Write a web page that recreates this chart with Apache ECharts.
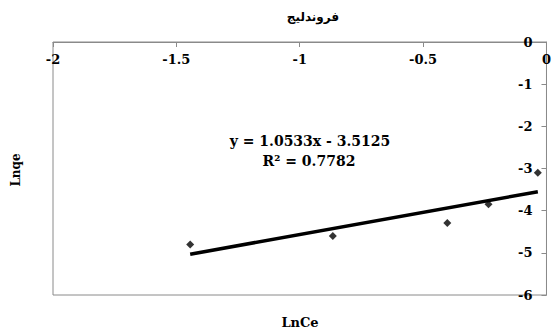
<!DOCTYPE html>
<html>
<head>
<meta charset="utf-8">
<script src="https://cdn.jsdelivr.net/npm/echarts@6/dist/echarts.min.js"></script>
<style>
  html, body { margin: 0; padding: 0; background: #fff; }
  #chart { width: 554px; height: 334px; }
</style>
</head>
<body>
<div id="chart"></div>
<script>
// Freundlich isotherm: ln Ce against ln qe
const lnCe = [-1.444, -0.866, -0.402, -0.235, -0.035];
const lnqe = [-4.80, -4.60, -4.29, -3.85, -3.10];

// Linear fit reported on the chart
const SLOPE = 1.0533;
const INTERCEPT = -3.5125;
const R2 = 0.7782;

const titleText = 'فروندليج';
const xName = 'LnCe';
const yName = 'Lnqe';

const points = lnCe.map((x, i) => [x, lnqe[i]]);
const xMin = Math.min(...lnCe);
const xMax = Math.max(...lnCe);
const fitLine = [xMin, xMax].map(x => [x, SLOPE * x + INTERCEPT]);

const serif = 'DejaVu Serif';
const axisGray = '#8a8a8a';

// SVG output keeps the Arabic title properly shaped and ordered
const chart = echarts.init(document.getElementById('chart'), null, { renderer: 'svg' });

chart.setOption({
  animation: false,
  backgroundColor: '#fff',
  grid: {
    left: 53, right: 2, top: 42, bottom: 39,
    show: true, borderColor: axisGray, borderWidth: 1, backgroundColor: 'transparent'
  },
  title: {
    text: titleText,
    left: 308, top: 6, textAlign: 'center',
    textStyle: { fontFamily: 'DejaVu Sans', fontWeight: 'bold', fontSize: 12, color: '#000' }
  },
  xAxis: {
    type: 'value',
    position: 'top',
    min: -2, max: 0, interval: 0.5,
    axisLine: { show: true, onZero: false, lineStyle: { color: axisGray, width: 1 } },
    axisTick: { show: true, inside: true, length: 5, lineStyle: { color: axisGray } },
    axisLabel: {
      inside: true, margin: 11,
      fontFamily: serif, fontWeight: 'bold', fontSize: 13, color: '#000',
      showMinLabel: true, showMaxLabel: true
    },
    splitLine: { show: false }
  },
  yAxis: {
    type: 'value',
    position: 'right',
    min: -6, max: 0, interval: 1,
    axisLine: { show: true, onZero: false, lineStyle: { color: axisGray, width: 1 } },
    axisTick: { show: true, inside: true, length: 5, lineStyle: { color: axisGray } },
    axisLabel: {
      inside: true, margin: 14,
      fontFamily: serif, fontWeight: 'bold', fontSize: 13, color: '#000',
      showMinLabel: true, showMaxLabel: true
    },
    splitLine: { show: false }
  },
  graphic: [
    {
      type: 'text', x: 300, y: 322,
      style: { text: xName, font: 'bold 13px "DejaVu Serif"', fill: '#000', textAlign: 'center', textVerticalAlign: 'middle' }
    },
    {
      type: 'text', x: 16, y: 170, rotation: Math.PI / 2,
      style: { text: yName, font: 'bold 12px "DejaVu Serif"', fill: '#000', textAlign: 'center', textVerticalAlign: 'middle' }
    },
    {
      type: 'text', x: 310, y: 141,
      style: {
        text: 'y = ' + SLOPE.toFixed(4) + 'x - ' + Math.abs(INTERCEPT).toFixed(4),
        font: 'bold 14px "DejaVu Serif"', fill: '#000', textAlign: 'center', textVerticalAlign: 'middle'
      }
    },
    {
      type: 'text', x: 309, y: 161,
      style: {
        text: 'R² = ' + R2.toFixed(4),
        font: 'bold 14px "DejaVu Serif"', fill: '#000', textAlign: 'center', textVerticalAlign: 'middle'
      }
    }
  ],
  series: [
    {
      type: 'line',
      data: fitLine,
      showSymbol: false,
      lineStyle: { color: '#000', width: 3.5 },
      z: 2
    },
    {
      type: 'scatter',
      data: points,
      symbol: 'diamond',
      symbolSize: 8,
      itemStyle: { color: '#000' },
      z: 3
    }
  ]
});
</script>
</body>
</html>
